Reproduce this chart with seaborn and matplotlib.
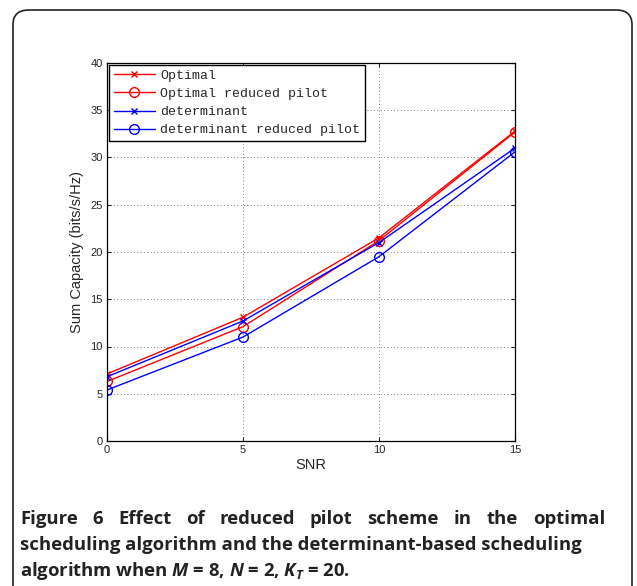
import matplotlib
matplotlib.use('Agg')
import matplotlib.pyplot as plt
from matplotlib.patches import FancyBboxPatch
import pandas as pd
import seaborn as sns

# Data
snr = [0, 5, 10, 15]
optimal = [7.1, 13.1, 21.5, 32.8]
optimal_reduced = [6.3, 12.1, 21.2, 32.7]
determinant = [6.8, 12.7, 21.0, 31.0]
determinant_reduced = [5.4, 11.0, 19.5, 30.6]

series = [("Optimal", optimal, 'red', 'x'),
          ("Optimal reduced pilot", optimal_reduced, 'red', 'o'),
          ("determinant", determinant, 'blue', 'x'),
          ("determinant reduced pilot", determinant_reduced, 'blue', 'o')]

sns.set_style("white")
plt.rcParams['font.family'] = ['Liberation Sans', 'DejaVu Sans']
plt.rcParams['mathtext.fontset'] = 'custom'
plt.rcParams['mathtext.rm'] = 'Open Sans:bold'
plt.rcParams['mathtext.it'] = 'Open Sans:bold:italic'

fig = plt.figure(figsize=(6.37, 5.86), dpi=100)

# card border
card = FancyBboxPatch((13 / 637, -0.05), (632 - 13) / 637, 1 - 10 / 586 + 0.05,
                      boxstyle="round,pad=0,rounding_size=0.025",
                      transform=fig.transFigure, fill=False,
                      edgecolor='#222222', linewidth=1.2)
fig.patches.append(card)

ax = fig.add_axes([107 / 637, 1 - 441 / 586, (515 - 107) / 637, (441 - 63) / 586])

for name, vals, col, mk in series:
    df = pd.DataFrame({"SNR": snr, "cap": vals})
    sns.lineplot(data=df, x="SNR", y="cap", ax=ax, color=col, marker=mk,
                 markersize=7 if mk == 'o' else 5, markerfacecolor='none',
                 markeredgecolor=col, markeredgewidth=1.0, linewidth=1.0,
                 label=name)

ax.set_xlim(0, 15)
ax.set_ylim(0, 40)
ax.set_xticks([0, 5, 10, 15])
ax.set_yticks(range(0, 41, 5))
ax.set_xlabel("SNR", fontsize=10.5, labelpad=2)
ax.set_ylabel("Sum Capacity (bits/s/Hz)", fontsize=10.5, labelpad=5)
ax.tick_params(direction='in', length=3, labelsize=8, top=True, right=True,
               bottom=True, left=True, width=0.8, pad=3)
ax.grid(True, linestyle=(0, (1, 3)), color='#555555', linewidth=0.6)
for sp in ax.spines.values():
    sp.set_visible(True)
    sp.set_color('black')
    sp.set_linewidth(0.9)

leg = ax.legend(loc='upper left', fancybox=False, edgecolor='black',
                framealpha=1, prop={'family': 'Liberation Mono', 'size': 9.5},
                borderaxespad=0.15, handlelength=3.1, labelspacing=0.45,
                borderpad=0.35, handletextpad=0.45)
leg.get_frame().set_linewidth(1.0)

# caption
cap_kw = dict(fontsize=13.3, fontfamily='Open Sans', fontweight='bold',
              color='#222222', transform=fig.transFigure, va='baseline')


def justify(words, y, x0, x1):
    fig.canvas.draw()
    r = fig.canvas.get_renderer()
    texts = [fig.text(0, y, w, **cap_kw) for w in words]
    widths = [t.get_window_extent(r).width / fig.bbox.width for t in texts]
    gap = ((x1 - x0) - sum(widths)) / (len(words) - 1)
    x = x0
    for t, w in zip(texts, widths):
        t.set_x(x)
        x += w + gap


line1 = "Figure 6 Effect of reduced pilot scheme in the optimal".split()
justify(line1, 1 - 524 / 586, 20 / 637, 605 / 637)
fig.text(20 / 637, 1 - 550 / 586,
         "scheduling algorithm and the determinant-based scheduling", **cap_kw)
fig.text(20 / 637, 1 - 576 / 586,
         r"algorithm when $M$ = 8, $N$ = 2, $K_{T}$ = 20.", **cap_kw)

plt.savefig("out.png", dpi=100)
